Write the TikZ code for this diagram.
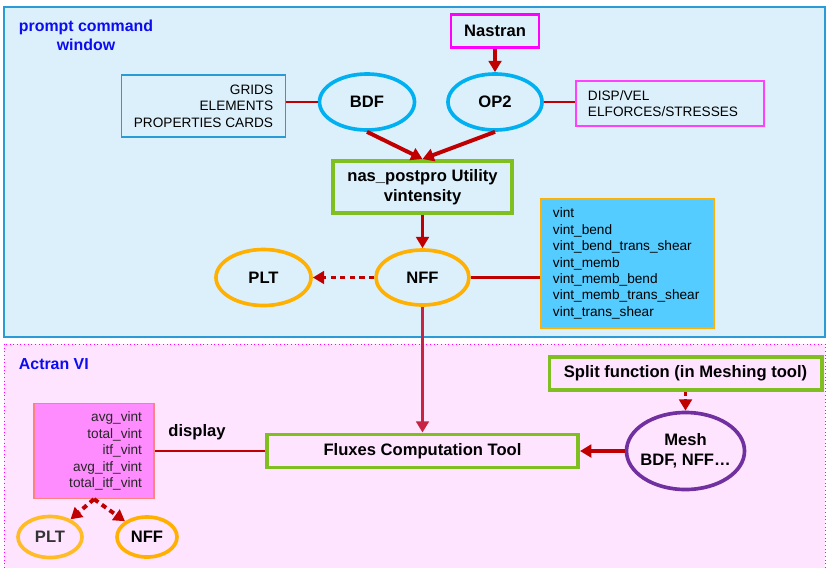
\documentclass[tikz,border=0pt]{standalone}
\usepackage{fontspec}
\setmainfont{Liberation Sans}
\usetikzlibrary{arrows.meta, positioning, shapes.geometric}
\definecolor{arrowred}{HTML}{C00000}
\definecolor{fluxred}{HTML}{C62440}
\definecolor{cmdpanel}{HTML}{DCF0FC}
\definecolor{cmdborder}{HTML}{2A9BD6}
\definecolor{actranpanel}{HTML}{FFE4FF}
\definecolor{ringcyan}{HTML}{00B0F0}
\definecolor{ringorange}{HTML}{FFB000}
\definecolor{ringpurple}{HTML}{7030A0}
\definecolor{toolgreen}{HTML}{7FBF1F}
\definecolor{vintblue}{HTML}{55CCFF}
\definecolor{avgpink}{HTML}{FF8CFF}
\definecolor{avgborder}{HTML}{FF8080}
\definecolor{titleblue}{HTML}{0C0CF0}
\definecolor{nastranpink}{HTML}{FF00FF}
\definecolor{disppink}{HTML}{FF40FF}

\begin{document}
\begin{tikzpicture}[x=0.025cm, y=-0.025cm,
    boldlbl/.style={font=\fontsize{11.8}{14}\selectfont\bfseries},
    smalllbl/.style={font=\fontsize{9.7}{11.7}\selectfont},
    titlelbl/.style={titleblue, font=\fontsize{11.3}{13.5}\selectfont\bfseries},
    ring/.style={ellipse, line width=2.6pt, inner sep=0pt, boldlbl},
    tool/.style={draw=toolgreen, line width=2.8pt, boldlbl, align=center},
    link/.style={arrowred, line width=1.5pt},
    flow/.style={arrowred, line width=2.8pt, -{Triangle[length=8pt, width=9pt]}},
    dotflow/.style={flow, dash pattern=on 3.8pt off 3pt}]
    \useasboundingbox (0,0) rectangle (826,567);

    % Panels
    \draw[cmdborder, fill=cmdpanel, line width=0.8pt] (4,7) rectangle (825,337);
    \draw[nastranpink, fill=actranpanel, line width=0.6pt, dotted] (4,344) rectangle (825,570);
    \node[titlelbl, align=center] (cmdtitle) at (86,35.5) {prompt command\\window};
    \node[titlelbl, anchor=west] (actrantitle) at (14,364) {Actran VI};

    % Nastran side
    \node[draw=nastranpink, line width=2pt, boldlbl, minimum width=2.2cm, minimum height=0.825cm] (nastran) at (495,31) {Nastran};
    \node[ring, draw=ringcyan, minimum width=2.375cm, minimum height=1.4cm] (bdf) at (367,102) {BDF};
    \node[ring, draw=ringcyan, minimum width=2.35cm, minimum height=1.4cm] (op2) at (495,102) {OP2};
    \node[draw=cmdborder, line width=0.8pt, smalllbl, align=right, inner xsep=0.3cm, minimum height=1.55cm] (grids) at (203.5,106) {GRIDS\\ELEMENTS\\PROPERTIES CARDS};
    \node[draw=disppink, line width=0.8pt, smalllbl, align=left, text width=4.1cm, inner xsep=0.3cm, minimum height=1.125cm] (disp) at (670,103.5) {DISP/VEL\\ELFORCES/STRESSES};
    \node[tool, minimum width=4.475cm, minimum height=1.3cm] (post) at (422.5,187) {nas\_postpro Utility\\vintensity};
    \node[ring, draw=ringorange, minimum width=2.325cm, minimum height=1.375cm] (nff) at (422.5,277.5) {NFF};
    \node[ring, draw=ringorange, minimum width=2.375cm, minimum height=1.4cm] (plt) at (263.5,277.5) {PLT};
    \node[draw=ringorange, fill=vintblue, line width=0.8pt, smalllbl, align=left, text width=3.725cm, inner xsep=0.3cm, minimum height=3.225cm] (vint) at (627.5,263.5) {vint\\vint\_bend\\vint\_bend\_trans\_shear\\vint\_memb\\vint\_memb\_bend\\vint\_memb\_trans\_shear\\vint\_trans\_shear};

    % Actran side
    \node[tool, minimum width=6.8cm, minimum height=0.825cm] (split) at (685.5,373.5) {Split function (in Meshing tool)};
    \node[ring, draw=ringpurple, align=center, inner xsep=-3pt, minimum width=2.95cm, minimum height=1.925cm] (mesh) at (685.5,451) {Mesh\\BDF, NFF…};
    \node[tool, minimum width=7.775cm, minimum height=0.825cm] (flux) at (422.5,451) {Fluxes Computation Tool};
    \node[draw=avgborder, fill=avgpink, line width=0.8pt, smalllbl, text=black!85, align=right, text width=2.4cm, inner xsep=0.3cm, minimum height=2.375cm] (avg) at (94,451) {avg\_vint\\total\_vint\\itf\_vint\\avg\_itf\_vint\\total\_itf\_vint};
    \node[boldlbl] (display) at (197,432) {display};
    \node[ring, draw=ringorange!85, text=black!80, minimum width=1.6cm, minimum height=1.025cm] (pltout) at (50,537) {PLT};
    \node[ring, draw=ringorange, minimum width=1.5cm, minimum height=1cm] (nffout) at (147,537) {NFF};

    % Connectors
    \draw[flow] (nastran) -- (op2);
    \draw[link] (grids.east |- bdf) -- (bdf);
    \draw[link] (op2) -- (op2 -| disp.west);
    \draw[flow] (bdf.south) -- (post.north);
    \draw[flow] (op2.south) -- (post.north);
    \draw[flow] (post) -- (nff);
    \draw[dotflow] (nff) -- (plt);
    \draw[link] (nff) -- (nff -| vint.west);
    \draw[flow, fluxred] (nff) -- (flux);
    \draw[flow, line width=2pt, dash pattern=on 3pt off 2pt] (split) -- (mesh);
    \draw[flow] (mesh) -- (flux);
    \draw[link] (flux) -- (avg);
    \draw[dotflow] (avg.south) -- (pltout);
    \draw[dotflow] (avg.south) -- (nffout);
\end{tikzpicture}
\end{document}
